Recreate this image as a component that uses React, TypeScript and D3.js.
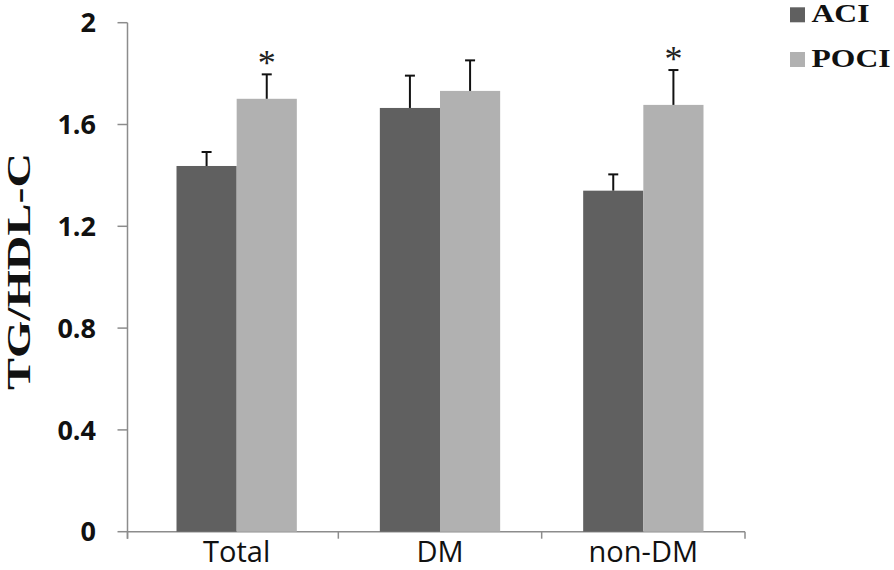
import React, { useRef, useEffect } from 'react';
import * as d3 from 'd3';

const categories = ['Total', 'DM', 'non-DM'];
const series = ['ACI', 'POCI'];
const aciValues = [1.437, 1.665, 1.34];
const aciErrors = [0.055, 0.127, 0.064];
const pociValues = [1.701, 1.732, 1.677];
const pociErrors = [0.096, 0.12, 0.137];
const pociStars = [true, false, true];
const yTicks = [0, 0.4, 0.8, 1.2, 1.6, 2];
const yTickLabels = ['0', '0.4', '0.8', '1.2', '1.6', '2'];
const yLabel = 'TG/HDL-C';

const colors = { ACI: '#606060', POCI: '#b1b1b1' };

export default function App() {
  const svgRef = useRef<SVGSVGElement>(null);

  useEffect(() => {
    const width = 894;
    const height = 570;
    const svg = d3.select(svgRef.current);
    svg.selectAll('*').remove();
    svg.attr('width', width).attr('height', height);

    const plotLeft = 127.5;
    const y = d3.scaleLinear().domain([0, 2]).range([531.7, 22.7]);
    const x = d3.scaleBand<string>().domain(categories).range([135, 745]).padding(0);
    const xSub = d3
      .scaleBand<string>()
      .domain(series)
      .range([0, x.bandwidth()])
      .paddingInner(0)
      .paddingOuter(0.69);

    const axisColor = '#8c8c8c';

    // y axis
    svg
      .append('line')
      .attr('x1', plotLeft)
      .attr('x2', plotLeft)
      .attr('y1', y(2))
      .attr('y2', y(0) + 7)
      .attr('stroke', axisColor)
      .attr('stroke-width', 1.5);
    const yt = svg.append('g');
    yTicks.forEach((t, i) => {
      yt.append('line')
        .attr('x1', plotLeft - 10)
        .attr('x2', plotLeft)
        .attr('y1', y(t))
        .attr('y2', y(t))
        .attr('stroke', axisColor)
        .attr('stroke-width', 1.5);
      yt.append('text')
        .attr('x', 96)
        .attr('y', y(t))
        .attr('dy', '0.36em')
        .attr('text-anchor', 'end')
        .attr('font-family', '"Open Sans", sans-serif')
        .attr('font-weight', 'bold')
        .attr('font-size', 27)
        .attr('fill', '#111')
        .text(yTickLabels[i]);
    });

    // x axis
    const xEnd = x.range()[1];
    svg
      .append('line')
      .attr('x1', plotLeft)
      .attr('x2', xEnd)
      .attr('y1', y(0))
      .attr('y2', y(0))
      .attr('stroke', axisColor)
      .attr('stroke-width', 1.5);
    const xTickPos = [plotLeft, x('DM')!, x('non-DM')!, xEnd];
    xTickPos.forEach((p) => {
      svg
        .append('line')
        .attr('x1', p)
        .attr('x2', p)
        .attr('y1', y(0))
        .attr('y2', y(0) + 7)
        .attr('stroke', axisColor)
        .attr('stroke-width', 1.5);
    });
    categories.forEach((c) => {
      svg
        .append('text')
        .attr('x', x(c)! + x.bandwidth() / 2)
        .attr('y', 562)
        .attr('text-anchor', 'middle')
        .attr('font-family', '"Open Sans", sans-serif')
        .attr('font-size', 29)
        .attr('fill', '#111')
        .text(c);
    });

    // bars
    const rows = categories.map((c, i) => [
      { cat: c, s: 'ACI', v: aciValues[i], e: aciErrors[i], star: false },
      { cat: c, s: 'POCI', v: pociValues[i], e: pociErrors[i], star: pociStars[i] },
    ]).flat();

    const g = svg.append('g');
    rows.forEach((d) => {
      const bx = x(d.cat)! + xSub(d.s)!;
      const bw = xSub.bandwidth();
      g.append('rect')
        .attr('x', bx)
        .attr('y', y(d.v))
        .attr('width', bw)
        .attr('height', y(0) - y(d.v))
        .attr('fill', (colors as any)[d.s]);
      const cx = bx + bw / 2;
      g.append('line')
        .attr('x1', cx)
        .attr('x2', cx)
        .attr('y1', y(d.v))
        .attr('y2', y(d.v + d.e))
        .attr('stroke', '#111')
        .attr('stroke-width', 2);
      g.append('line')
        .attr('x1', cx - 5)
        .attr('x2', cx + 5)
        .attr('y1', y(d.v + d.e))
        .attr('y2', y(d.v + d.e))
        .attr('stroke', '#111')
        .attr('stroke-width', 2);
      if (d.star) {
        g.append('text')
          .attr('x', cx)
          .attr('y', y(d.v + d.e) + 1)
          .attr('text-anchor', 'middle')
          .attr('font-family', '"Liberation Serif", serif')
          .attr('font-size', 36)
          .attr('fill', '#222')
          .text('*');
      }
    });

    // y label
    svg
      .append('text')
      .attr('transform', `translate(30, ${271.5}) rotate(-90)`)
      .attr('text-anchor', 'middle')
      .attr('font-family', '"Liberation Serif", serif')
      .attr('font-weight', 'bold')
      .attr('font-size', 34)
      .attr('textLength', 237)
      .attr('lengthAdjust', 'spacingAndGlyphs')
      .attr('fill', '#111')
      .text(yLabel);

    // legend
    const legend = svg.append('g');
    const legendW = { ACI: 58, POCI: 79 };
    series.forEach((s, i) => {
      const ly = 22.3 + i * 44.7;
      legend
        .append('rect')
        .attr('x', 790)
        .attr('y', ly - 15)
        .attr('width', 15)
        .attr('height', 15)
        .attr('fill', (colors as any)[s]);
      legend
        .append('text')
        .attr('x', 811.5)
        .attr('y', ly)
        .attr('font-family', '"Liberation Serif", serif')
        .attr('font-weight', 'bold')
        .attr('font-size', 25)
        .attr('textLength', (legendW as any)[s])
        .attr('lengthAdjust', 'spacingAndGlyphs')
        .attr('fill', '#111')
        .text(s);
    });
  }, []);

  return (
    <div style={{ position: 'absolute', left: 0, top: 0, width: 894, height: 570, background: '#fff' }}>
      <svg ref={svgRef} style={{ display: 'block' }}></svg>
    </div>
  );
}
